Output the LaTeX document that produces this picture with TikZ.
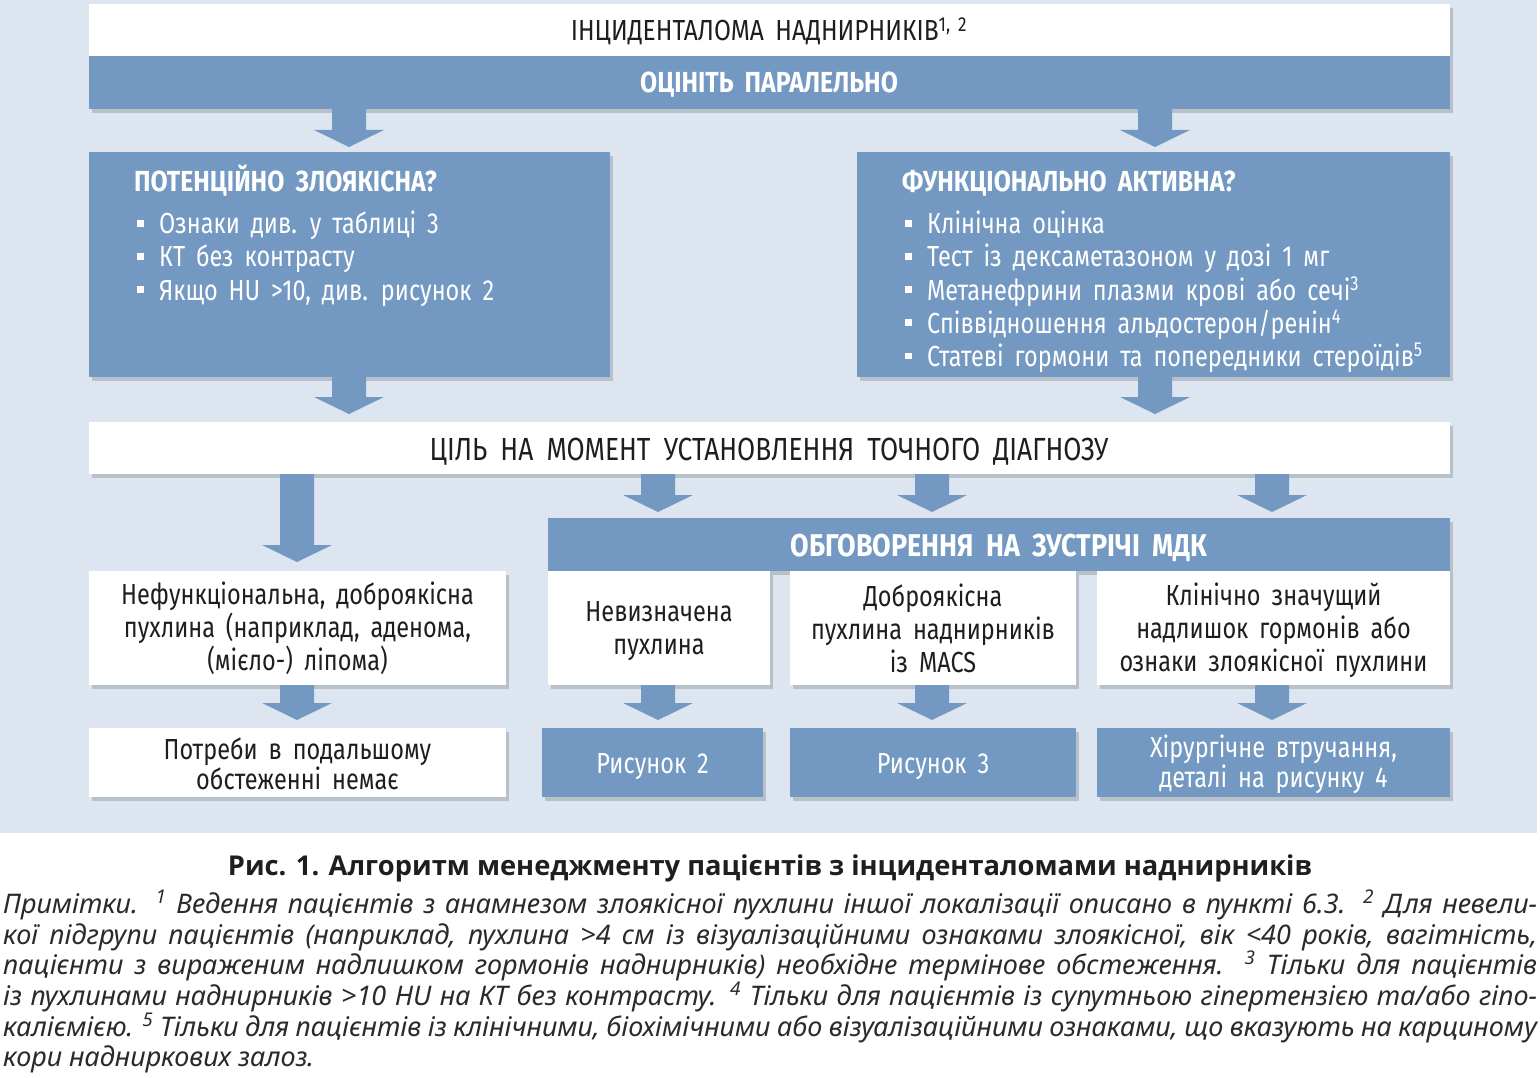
\documentclass[tikz,border=0pt]{standalone}
\usepackage{fontspec}
\setmainfont{Fira Sans}[FakeStretch=0.8]
\newfontfamily\dfont{Fira Sans}[FakeStretch=0.81, WordSpace=1.75]
\newfontfamily\tfont{Fira Sans}[FakeStretch=0.845, WordSpace=1.75]
\newfontfamily\gfont{Fira Sans}[FakeStretch=0.82, WordSpace=1.9]
\newfontfamily\hfont{Fira Sans}[FakeStretch=0.856, WordSpace=1.9]
\newfontfamily\nfont{Noto Sans}
\newfontfamily\cfont{Open Sans}
\usetikzlibrary{shadows,calc}
\definecolor{boxblue}{HTML}{7399C2}
\definecolor{bgc}{HTML}{DCE5F0}
\definecolor{txtc}{HTML}{1E1E1E}
\definecolor{notec}{HTML}{2A2A2A}
\newcommand\bul{\makebox[22pt][l]{\rule[7pt]{6.5pt}{6.5pt}}}
\newcommand\barrow[3]{\fill[boxblue] (#1) ++(-17,0) -- ++(0,#2) -- ++(-18,0) -- ++(35,#3) -- ++(35,-#3) -- ++(-18,0) -- ++(0,-#2) -- cycle;}
\begin{document}
\begin{tikzpicture}[x=1pt,y=-1pt,
  box/.style={rectangle, inner sep=0pt, outer sep=0pt, anchor=north west},
  shad/.style={drop shadow={shadow xshift=3pt, shadow yshift=-4pt, opacity=0.16, fill=black}},
  wbox/.style={box, fill=white, shad},
  bbox/.style={box, fill=boxblue, shad},
  dtext/.style={inner sep=0pt, text=txtc, font=\dfont\fontsize{29}{33}\selectfont},
  wtext/.style={inner sep=0pt, text=white, font=\dfont\fontsize{29}{33}\selectfont},
  htext/.style={inner sep=0pt, text=white, font=\hfont\bfseries\fontsize{29}{33}\selectfont},
  note/.style={inner sep=0pt, anchor=base west, text=notec, font=\nfont\itshape\fontsize{27}{30}\selectfont},
]
\fill[white] (0,0) rectangle (1540,1078);
\useasboundingbox (0,0) rectangle (1540,1078);
\fill[bgc] (0,0) rectangle (1537,833);

% boxes
\node[wbox, minimum width=1361pt, minimum height=52pt] (title) at (89,4) {};
\node[bbox, minimum width=1361pt, minimum height=53pt] (par) at (89,56) {};
\node[bbox, minimum width=521pt, minimum height=225pt] (mal) at (89,152) {};
\node[bbox, minimum width=593pt, minimum height=225pt] (func) at (857,152) {};
\node[wbox, minimum width=1361pt, minimum height=52pt] (goal) at (89,422) {};
\node[bbox, minimum width=902pt, minimum height=53pt] (mdk) at (548,518) {};
\node[wbox, minimum width=222pt, minimum height=114pt] (und) at (548,571) {};
\node[wbox, minimum width=286pt, minimum height=114pt] (ben) at (790,571) {};
\node[wbox, minimum width=353pt, minimum height=114pt] (cli) at (1097,571) {};
\node[wbox, minimum width=417pt, minimum height=114pt] (nf) at (89,571) {};
\node[wbox, minimum width=417pt, minimum height=69pt] (noneed) at (89,728) {};
\node[bbox, minimum width=221pt, minimum height=69pt] (fig2) at (542,728) {};
\node[bbox, minimum width=286pt, minimum height=69pt] (fig3) at (790,728) {};
\node[bbox, minimum width=353pt, minimum height=69pt] (surg) at (1097,728) {};

% arrows
\coordinate (a1) at ($(par.south west)+(260,0)$);
\coordinate (a2) at ($(par.south west)+(1066,0)$);
\coordinate (a3) at ($(mal.south west)+(260,0)$);
\coordinate (a4) at ($(func.south west)+(298,0)$);
\coordinate (a5) at ($(goal.south west)+(208,0)$);
\coordinate (a6) at ($(goal.south west)+(569,0)$);
\coordinate (a7) at ($(goal.south west)+(843,0)$);
\coordinate (a8) at ($(goal.south west)+(1183,0)$);
\coordinate (a9) at ($(nf.south west)+(208,0)$);
\coordinate (a10) at ($(und.south west)+(110,0)$);
\coordinate (a11) at ($(ben.south west)+(142,0)$);
\coordinate (a12) at ($(cli.south west)+(175,0)$);
\barrow{a1}{21}{17}
\barrow{a2}{21}{17}
\barrow{a3}{20}{17}
\barrow{a4}{20}{17}
\barrow{a5}{71}{17}
\barrow{a6}{21}{17}
\barrow{a7}{21}{17}
\barrow{a8}{21}{17}
\barrow{a9}{18}{17}
\barrow{a10}{18}{17}
\barrow{a11}{18}{17}
\barrow{a12}{18}{17}

% texts
\node[dtext, anchor=base, font=\tfont\fontsize{29}{33}\selectfont] (tt) at (769,41) {ІНЦИДЕНТАЛОМА НАДНИРНИКІВ\textsuperscript{1, 2}};
\node[htext, anchor=base] (pt) at (769,93) {ОЦІНІТЬ ПАРАЛЕЛЬНО};

\node[htext, anchor=base west] (malt) at (134,192) {ПОТЕНЦІЙНО ЗЛОЯКІСНА?};
\node[wtext, anchor=base west] (m1) at (137,234) {\bul Ознаки див. у таблиці 3};
\node[wtext, anchor=base west] (m2) at (137,267) {\bul КТ без контрасту};
\node[wtext, anchor=base west] (m3) at (137,300) {\bul Якщо HU >10, див. рисунок 2};

\node[htext, anchor=base west] (funct) at (902,192) {ФУНКЦІОНАЛЬНО АКТИВНА?};
\node[wtext, anchor=base west] (f1) at (905,234) {\bul Клінічна оцінка};
\node[wtext, anchor=base west] (f2) at (905,267) {\bul Тест із дексаметазоном у дозі 1 мг};
\node[wtext, anchor=base west] (f3) at (905,300) {\bul Метанефрини плазми крові або сечі\textsuperscript{3}};
\node[wtext, anchor=base west] (f4) at (905,333) {\bul Співвідношення альдостерон/ренін\textsuperscript{4}};
\node[wtext, anchor=base west] (f5) at (905,366) {\bul Статеві гормони та попередники стероїдів\textsuperscript{5}};

\node[dtext, anchor=base, font=\gfont\fontsize{32}{33}\selectfont] (gt) at (769,460) {ЦІЛЬ НА МОМЕНТ УСТАНОВЛЕННЯ ТОЧНОГО ДІАГНОЗУ};
\node[htext, anchor=base, font=\hfont\bfseries\fontsize{31.5}{33}\selectfont] (mt) at (999,556) {ОБГОВОРЕННЯ НА ЗУСТРІЧІ МДК};

\node[dtext, align=center] (nft) at (nf.center) {Нефункціональна, доброякісна\\пухлина (наприклад, аденома,\\(мієло-) ліпома)};
\node[dtext, align=center, yshift=-3pt] (undt) at (und.center) {Невизначена\\пухлина};
\node[dtext, align=center] (bent) at (ben.center) {Доброякісна\\пухлина наднирників\\із MACS};
\node[dtext, align=center, yshift=-2pt] (clit) at (cli.center) {Клінічно значущий\\надлишок гормонів або\\ознаки злоякісної пухлини};

\node[dtext, align=center, font=\dfont\fontsize{29}{27}\selectfont, yshift=-1pt] (noneedt) at (noneed.center) {Потреби в подальшому\\обстеженні немає};
\node[wtext, align=center, yshift=-4pt] (fig2t) at (fig2.center) {Рисунок 2};
\node[wtext, align=center, yshift=-4pt] (fig3t) at (fig3.center) {Рисунок 3};
\node[wtext, align=center, font=\dfont\fontsize{29}{26}\selectfont, yshift=-2pt] (surgt) at (surg.center) {Хірургічне втручання,\\деталі на рисунку 4};

% caption and notes
\node[inner sep=0pt, anchor=base, text=txtc, font=\cfont\bfseries\fontsize{27.3}{30}\selectfont] (cap) at (770,875) {Рис. 1. Алгоритм менеджменту пацієнтів з інциденталомами наднирників};
\node[note] (n1) at (3,913) {\makebox[1534pt][s]{Примітки. \textsuperscript{1} Ведення пацієнтів з анамнезом злоякісної пухлини іншої локалізації описано в пункті 6.3. \textsuperscript{2} Для невели-}};
\node[note] (n2) at (3,944) {\makebox[1534pt][s]{кої підгрупи пацієнтів (наприклад, пухлина >4 см із візуалізаційними ознаками злоякісної, вік <40 років, вагітність,}};
\node[note] (n3) at (3,974) {\makebox[1534pt][s]{пацієнти з вираженим надлишком гормонів наднирників) необхідне термінове обстеження. \textsuperscript{3} Тільки для пацієнтів}};
\node[note] (n4) at (3,1005) {\makebox[1534pt][s]{із пухлинами наднирників >10 HU на КТ без контрасту. \textsuperscript{4} Тільки для пацієнтів із супутньою гіпертензією та/або гіпо-}};
\node[note] (n5) at (3,1036) {\makebox[1534pt][s]{каліємією. \textsuperscript{5} Тільки для пацієнтів із клінічними, біохімічними або візуалізаційними ознаками, що вказують на карциному}};
\node[note] (n6) at (3,1066) {кори надниркових залоз.};
\end{tikzpicture}
\end{document}
